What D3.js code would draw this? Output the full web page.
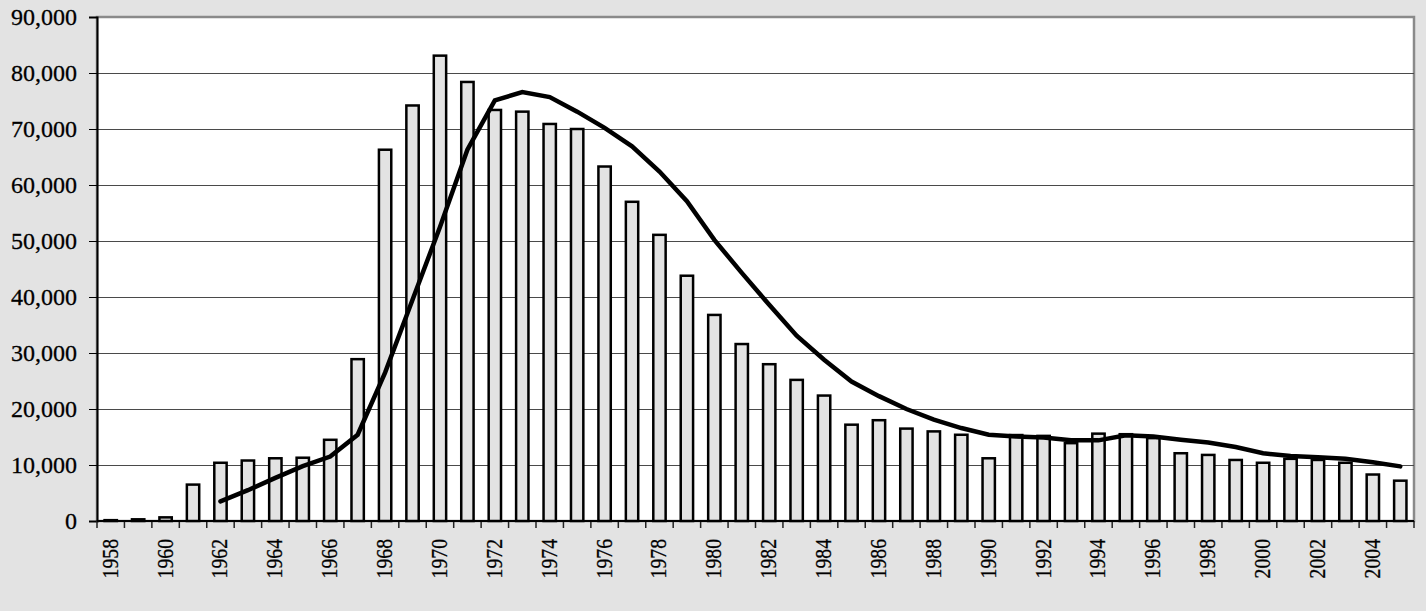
<!DOCTYPE html>
<html>
<head>
<meta charset="utf-8">
<script src="https://cdn.jsdelivr.net/npm/d3@7"></script>
<style>
    html, body { margin: 0; padding: 0; background: #e3e3e3; }
    svg { display: block; }
</style>
</head>
<body>
<div id="chart"></div>
<script>
// Years shown on the x-axis
const years = d3.range(1958, 2006);

// Yearly bar values
const barValues = [
    150, 300, 650, 6500, 10400, 10800, 11200, 11300, 14500, 28900,
    66300, 74200, 83100, 78400, 73400, 73100, 70900, 70000, 63300, 57000,
    51100, 43800, 36800, 31600, 28000, 25200, 22400, 17200, 18000, 16500,
    16000, 15400, 11200, 15350, 15200, 13900, 15600, 15500, 14800, 12100,
    11800, 10900, 10400, 11100, 10900, 10400, 8300, 7200
];

// Trend line, starts in 1962
const lineYears = d3.range(1962, 2006);
const lineValues = [
    3500, 5500, 7700, 9800, 11500, 15400, 26500, 39500, 52500, 66300,
    75100, 76600, 75700, 73100, 70200, 66900, 62400, 57100, 50200, 44300,
    38600, 33100, 28800, 24900, 22300, 20000, 18100, 16600, 15400, 15100,
    14900, 14400, 14400, 15300, 15100, 14500, 14000, 13200, 12100, 11600,
    11400, 11100, 10500, 9750
];

// Y tick values
const yTicks = d3.range(0, 90001, 10000);

const fontFamily = "'Liberation Serif', 'Times New Roman', Times, serif";

const width = 1426, height = 611;
const dimensions = {
    width: width,
    height: height,
    margins: { top: 17, right: 12, bottom: 90, left: 97 }
};
dimensions.bordWidth = dimensions.width - dimensions.margins.left - dimensions.margins.right;
dimensions.bordHeight = dimensions.height - dimensions.margins.top - dimensions.margins.bottom;

const svg = d3.select("#chart")
    .append("svg")
    .attr("width", dimensions.width)
    .attr("height", dimensions.height);

svg.append("rect")
    .attr("width", width)
    .attr("height", height)
    .attr("fill", "#e3e3e3");

const borders = svg.append("g")
    .attr("transform", `translate(${dimensions.margins.left},${dimensions.margins.top})`);

// Scales
const xScale = d3.scaleBand()
    .domain(years)
    .range([0, dimensions.bordWidth])
    .paddingInner(0.55)
    .paddingOuter(0.275);

const yScale = d3.scaleLinear()
    .domain([0, 90000])
    .range([dimensions.bordHeight, 0]);

const step = xScale.step();
const xCenter = y => xScale(y) + xScale.bandwidth() / 2;

// Plot area
borders.append("rect")
    .attr("width", dimensions.bordWidth)
    .attr("height", dimensions.bordHeight)
    .attr("fill", "#fff")
    .attr("stroke", "#8a8a8a")
    .attr("stroke-width", 2.5);

// Gridlines
borders.append("g")
    .selectAll("line")
    .data(yTicks.filter(d => d > 0 && d < 90000))
    .enter().append("line")
    .attr("x1", 0)
    .attr("x2", dimensions.bordWidth)
    .attr("y1", d => Math.round(yScale(d)) + 0.5)
    .attr("y2", d => Math.round(yScale(d)) + 0.5)
    .attr("stroke", "#4a4a4a")
    .attr("stroke-width", 1);

// Bars
borders.selectAll(".bar")
    .data(years.map((y, i) => ({ year: y, value: barValues[i] })))
    .enter().append("rect")
    .attr("class", "bar")
    .attr("x", d => xScale(d.year))
    .attr("width", xScale.bandwidth())
    .attr("y", d => yScale(d.value))
    .attr("height", d => dimensions.bordHeight - yScale(d.value))
    .attr("fill", "#e3e3e3")
    .attr("stroke", "#000")
    .attr("stroke-width", 2.5);

// Trend line
const line = d3.line()
    .x(d => xCenter(d.year))
    .y(d => yScale(d.value));

borders.append("path")
    .datum(lineYears.map((y, i) => ({ year: y, value: lineValues[i] })))
    .attr("d", line)
    .attr("fill", "none")
    .attr("stroke", "#000")
    .attr("stroke-width", 4.5)
    .attr("stroke-linecap", "round");

// Y axis
const yAxis = d3.axisLeft(yScale)
    .tickValues(yTicks)
    .tickSize(8)
    .tickPadding(12)
    .tickFormat(d3.format(","));

const yAxisG = borders.append("g")
    .call(yAxis)
    .attr("font-family", null)
    .attr("font-size", null);
yAxisG.select(".domain").attr("stroke", "#000").attr("stroke-width", 2);
yAxisG.selectAll(".tick line").attr("stroke", "#000");
yAxisG.selectAll("text")
    .style("font-family", fontFamily)
    .style("font-size", "24px")
    .attr("fill", "#000")
    .attr("stroke", "#000")
    .attr("stroke-width", 0.3);

// X axis: ticks at band edges
const xAxisG = borders.append("g")
    .attr("transform", `translate(0,${dimensions.bordHeight})`);

xAxisG.selectAll(".edge")
    .data(years.concat([2006]))
    .enter().append("line")
    .attr("class", "edge")
    .attr("x1", d => d === 2006 ? dimensions.bordWidth : xCenter(d) - step / 2)
    .attr("x2", d => d === 2006 ? dimensions.bordWidth : xCenter(d) - step / 2)
    .attr("y1", 0)
    .attr("y2", 7)
    .attr("stroke", "#222")
    .attr("stroke-width", 1.5);

xAxisG.append("line")
    .attr("x1", 0)
    .attr("x2", dimensions.bordWidth)
    .attr("y1", 0)
    .attr("y2", 0)
    .attr("stroke", "#000")
    .attr("stroke-width", 2);

// X labels every other year
xAxisG.selectAll(".x-label")
    .data(years.filter(y => y % 2 === 0))
    .enter().append("text")
    .attr("class", "x-label")
    .attr("transform", d => `translate(${xCenter(d) + 7},18) rotate(-90) scale(0.84,1)`)
    .attr("text-anchor", "end")
    .style("font-family", fontFamily)
    .style("font-size", "23.5px")
    .attr("fill", "#000")
    .attr("stroke", "#000")
    .attr("stroke-width", 0.3)
    .text(d => d);
</script>
</body>
</html>
